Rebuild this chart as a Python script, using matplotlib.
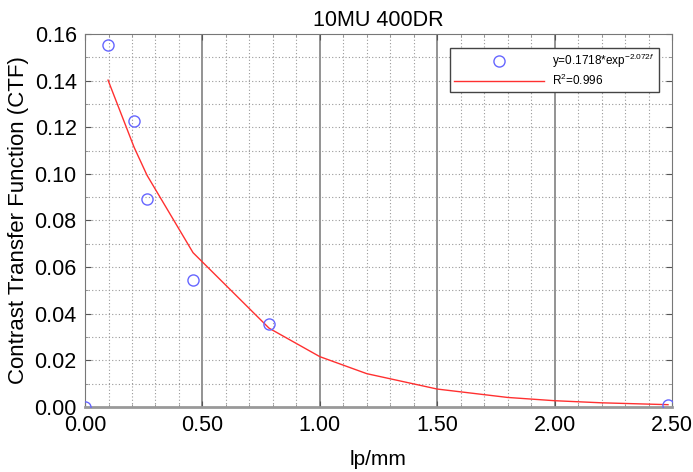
import numpy as np
import matplotlib.pyplot as plt
from matplotlib.ticker import MultipleLocator, FormatStrFormatter

plt.rcParams['font.family'] = ['Liberation Sans', 'DejaVu Sans']
plt.rcParams['mathtext.fontset'] = 'custom'
plt.rcParams['mathtext.rm'] = 'Liberation Sans'
plt.rcParams['mathtext.it'] = 'Liberation Sans:italic'

# measured CTF points
freq = [0.0, 0.098, 0.209, 0.264, 0.46, 0.784, 2.483]
ctf = [0.0, 0.1553, 0.1227, 0.0892, 0.0545, 0.0356, 0.0010]

# fitted curve as drawn (y=0.1718*exp(-2.072f))
fit_freq = [0.098, 0.209, 0.264, 0.46, 0.784, 1.0, 1.2, 1.5, 1.8, 2.0, 2.2, 2.483]
fit_ctf = [0.1402, 0.1114, 0.0994, 0.0662, 0.0338, 0.0216, 0.0143, 0.0077,
           0.0041, 0.0027, 0.0018, 0.0010]

fig = plt.figure(figsize=(6.93, 4.72), dpi=100)
ax = fig.add_axes([0.1227, 0.1377, 0.847, 0.7903])

# grid
for x in np.arange(0.1, 2.5, 0.1):
    if abs(x / 0.5 - round(x / 0.5)) < 1e-6:
        ax.axvline(x, color='#808080', lw=1.2, zorder=1)
    else:
        ax.axvline(x, color='#999999', lw=0.8, ls=(0, (1, 2)), zorder=1)
for y in np.arange(0.01, 0.16, 0.01):
    ax.axhline(y, color='#999999', lw=0.8, ls=(0, (1, 2)), zorder=1)

ax.plot(freq, ctf, 'o', mfc='none', mec='#6666ff', ms=8, mew=1.0, zorder=3,
        label=r'y=0.1718*exp$^{\mathregular{-2.072}\mathit{f}}$')
ax.plot(fit_freq, fit_ctf, '-', color='#ff3030', lw=1.0, zorder=2,
        label=r'R$^{2}$=0.996')

ax.set_xlim(0, 2.5)
ax.set_ylim(0, 0.16)
ax.xaxis.set_major_locator(MultipleLocator(0.5))
ax.yaxis.set_major_locator(MultipleLocator(0.02))
ax.xaxis.set_minor_locator(MultipleLocator(0.1))
ax.yaxis.set_minor_locator(MultipleLocator(0.01))
ax.xaxis.set_major_formatter(FormatStrFormatter('%.2f'))
ax.yaxis.set_major_formatter(FormatStrFormatter('%.2f'))
ax.tick_params(which='major', direction='in', length=4, labelsize=15.5, pad=6,
               color='#555555', top=True, right=True)
ax.tick_params(which='minor', direction='in', length=2, color='#888888',
               top=True, right=True)

for side in ['left', 'top', 'right']:
    ax.spines[side].set_color('#777777')
ax.spines['bottom'].set_color('#999999')
ax.spines['bottom'].set_linewidth(2)

ax.set_title('10MU 400DR', fontsize=15.5, pad=6)
ax.set_xlabel('lp/mm', fontsize=15, labelpad=10)
ax.set_ylabel('Contrast Transfer Function (CTF)', fontsize=16, labelpad=4)

leg = ax.legend(loc='upper right', bbox_to_anchor=(0.978, 0.9625), borderaxespad=0,
                fontsize=8.5, handlelength=7.6, handletextpad=0.7,
                fancybox=False, framealpha=1, edgecolor='#444444',
                borderpad=0.35, labelspacing=0.2)
leg.get_frame().set_linewidth(1.0)

fig.savefig('out.png', dpi=100)
